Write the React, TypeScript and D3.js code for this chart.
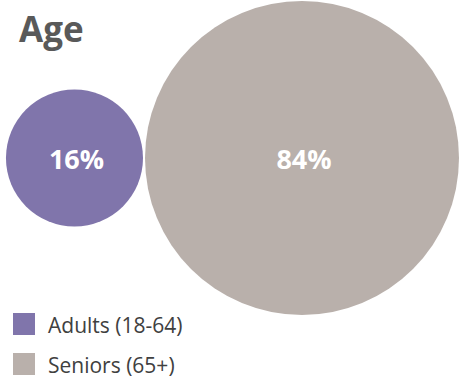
import React from "react";
import * as d3 from "d3";

const categories = ["Adults (18-64)", "Seniors (65+)"];
const values = [16, 84];
const labels = ["16%", "84%"];
const colors = ["#8075AB", "#B9B0AB"];
const title = "Age";

const W = 472;
const H = 385;

export default function App() {
  const rScale = d3.scaleSqrt().domain([0, d3.max(values) as number]).range([0, 157]);
  const cy = 158;
  const bigR = rScale(values[1]);
  const bigCx = 459 - bigR;
  const smallR = rScale(values[0]);
  const smallCx = bigCx - bigR - 2 - smallR;
  const cxs = [smallCx, bigCx];
  const font = "'Open Sans', sans-serif";
  return (
    <svg width={W} height={H} style={{ position: "absolute", left: 0, top: 0 }} fontFamily={font}>
      <rect width={W} height={H} fill="#fff" />
      {values.map((v, i) => (
        <g key={i}>
          <circle cx={cxs[i]} cy={cy} r={rScale(v)} fill={colors[i]} />
          <text x={cxs[i] + 2} y={cy + 11} textAnchor="middle" fill="#fff" fontWeight="bold" fontSize={27}>
            {labels[i]}
          </text>
        </g>
      ))}
      <text x={19} y={42} fill="#595959" fontWeight="bold" fontSize={35}>{title}</text>
      {categories.map((c, i) => (
        <g key={c} transform={`translate(13, ${313 + i * 40})`}>
          <rect width={22} height={22} fill={colors[i]} />
          <text x={35} y={19.5} fill="#404040" fontSize={21}>{c}</text>
        </g>
      ))}
    </svg>
  );
}
